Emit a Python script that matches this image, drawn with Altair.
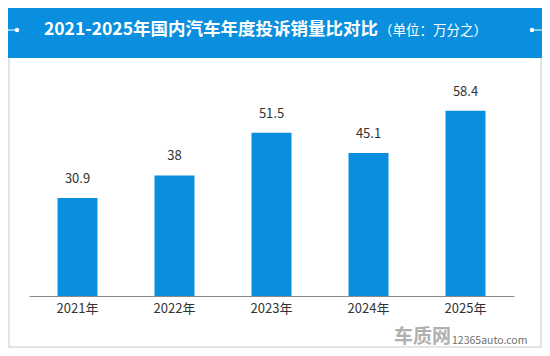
import altair as alt
import pandas as pd

years = ["2021年", "2022年", "2023年", "2024年", "2025年"]
values = [30.9, 38, 51.5, 45.1, 58.4]
title_main = "2021-2025年国内汽车年度投诉销量比对比"
title_unit = "（单位：万分之）"
brand = "车质网"
site = "12365auto.com"

df = pd.DataFrame({"year": years, "value": values})
FONT = "Noto Sans CJK SC"
BLUE = "#0a8fde"
one = alt.Data(values=[{}])

xenc = alt.X("year:N", sort=years,
             scale=alt.Scale(paddingInner=0.588, paddingOuter=0.294),
             axis=alt.Axis(title=None, labelAngle=0, ticks=False, labelPadding=6,
                           labelFontSize=13, labelColor="#333333", labelFont=FONT,
                           domainColor="#8a8a8a", domainWidth=1))
yenc = alt.Y("value:Q", scale=alt.Scale(domain=[0, 70]), axis=None)

bars = alt.Chart(df).mark_bar(color=BLUE).encode(x=xenc, y=yenc)
labels = alt.Chart(df).mark_text(font=FONT, fontSize=13, color="#333333",
                                 baseline="middle", dy=-19).encode(
    x=alt.X("year:N", sort=years), y="value:Q", text="value:Q")

border = alt.Chart(one).mark_rect(fillOpacity=0, stroke="#dcdcdc", strokeWidth=1.5).encode(
    x=alt.value(-20), x2=alt.value(512), y=alt.value(-20), y2=alt.value(273))
header = alt.Chart(one).mark_rect(color=BLUE).encode(
    x=alt.value(-21), x2=alt.value(513), y=alt.value(-66), y2=alt.value(-16))
lline = alt.Chart(one).mark_rule(color="white", strokeWidth=1).encode(
    x=alt.value(-21), x2=alt.value(-12), y=alt.value(-44))
rline = alt.Chart(one).mark_rule(color="white", strokeWidth=1).encode(
    x=alt.value(503), x2=alt.value(513), y=alt.value(-44))
ldot = alt.Chart(one).mark_circle(color="white", opacity=1, size=20).encode(
    x=alt.value(-12), y=alt.value(-44))
rdot = alt.Chart(one).mark_circle(color="white", opacity=1, size=20).encode(
    x=alt.value(503), y=alt.value(-44))
t1 = alt.Chart(one).mark_text(font=FONT, fontSize=17.5, fontWeight="bold", color="white",
                              align="right", baseline="middle").encode(
    x=alt.value(349), y=alt.value(-44), text=alt.value(title_main))
t2 = alt.Chart(one).mark_text(font=FONT, fontSize=13.5, color="white",
                              align="left", baseline="middle").encode(
    x=alt.value(350), y=alt.value(-43), text=alt.value(title_unit))
w1 = alt.Chart(one).mark_text(font=FONT, fontSize=19, fontWeight="bold", color="#b0b0b0",
                              align="right", baseline="middle").encode(
    x=alt.value(422), y=alt.value(263), text=alt.value(brand))
w2 = alt.Chart(one).mark_text(font=FONT, fontSize=10.5, color="#707070",
                              align="left", baseline="middle").encode(
    x=alt.value(423), y=alt.value(267), text=alt.value(site))

chart = alt.layer(border, header, lline, rline, ldot, rdot, t1, t2, bars, labels, w1, w2).properties(
    width=485, height=222,
    autosize=alt.AutoSizeParams(type="none"),
    padding={"left": 21, "top": 66, "right": 28, "bottom": 52},
    background="white",
).configure_view(stroke=None)

chart.save("out.html", embed_options={"renderer": "svg", "actions": False})
